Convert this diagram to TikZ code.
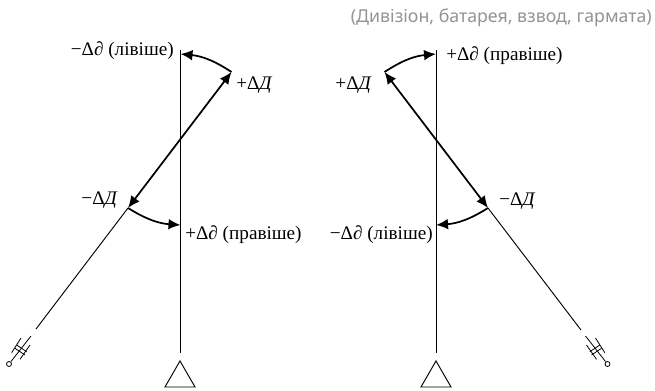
\documentclass[tikz,border=0pt]{standalone}
\usepackage{fontspec}
\usepackage{xcolor}
\setmainfont{Liberation Serif}
\setsansfont{Noto Sans}
\usetikzlibrary{arrows.meta,shapes.geometric}

\begin{document}
\begin{tikzpicture}[
  x=0.75pt, y=-0.75pt,
  lbl/.style={font=\fontsize{14.4}{16}\selectfont, inner sep=0pt},
  caption/.style={font=\sffamily\fontsize{13.3}{15}\selectfont, text=gray!85, inner sep=0pt},
  axisline/.style={line width=0.7pt},
  firstline/.style={line width=0.7pt},
  arr/.style={{Latex[length=9pt,width=8pt]}-{Latex[length=9pt,width=8pt]}, line width=1.3pt},
  turn/.style={-{Latex[length=9pt,width=8pt]}, line width=1.3pt},
  obspost/.style={draw, regular polygon, regular polygon sides=3, minimum size=26pt,
                  inner sep=0pt, line width=0.7pt},
  gunmark/.pic={
    \draw[line width=0.6pt] (2,-2.5) -- (22,-28);
    \draw[line width=0.6pt] (12,-26) -- (2.7,-11.3);
    \draw[line width=0.6pt] (21,-19) -- (11,-4.7);
    \draw[line width=0.6pt] (7.7,-19) -- (17.7,-12.3);
    \draw[line width=0.6pt] (6,-15.7) -- (16,-9);
    \draw[line width=0.6pt] (0,0) circle (2.5);
  }
]
  \useasboundingbox (0,0) rectangle (655,390);

  \node[caption, anchor=east] (title) at (652,18) {(Дивізіон, батарея, взвод, гармата)};

  % Left: fire to the left of the line
  \node[obspost] (postL) at (180,378.3) {};
  \coordinate (topL) at (180.5,50);
  \coordinate (botL) at (180.5,353);
  \coordinate (overL) at (231.5,72);
  \coordinate (shortL) at (128,208);
  \coordinate (gunendL) at (36,329);
  \coordinate (corrTopL) at (180.5,54);
  \coordinate (corrBotL) at (180.5,225);
  \pic at (9,364) {gunmark};

  \draw[axisline] (topL) -- (botL);
  \draw[firstline] (shortL) -- (gunendL);
  \draw[arr] (overL) -- (shortL);
  \draw[turn] (overL) to[bend right=14] (corrTopL);
  \draw[turn] (shortL) to[bend right=14] (corrBotL);

  \node[lbl, anchor=east] (minusdL) at (174,51) {−Δ\textit{∂} (лівіше)};
  \node[lbl, anchor=west] (plusDL) at (236,85.5) {+Δ\textit{Д}};
  \node[lbl, anchor=east] (minusDL) at (118,200) {−Δ\textit{Д}};
  \node[lbl, anchor=west] (plusdL) at (185,234.5) {+Δ\textit{∂} (правіше)};

  % Right: fire to the right of the line
  \node[obspost] (postR) at (436,378.3) {};
  \coordinate (topR) at (436,50);
  \coordinate (botR) at (436,353);
  \coordinate (overR) at (384.5,72);
  \coordinate (shortR) at (488,208);
  \coordinate (gunendR) at (581,330);
  \coordinate (corrTopR) at (436,54);
  \coordinate (corrBotR) at (436,225);
  \pic[xscale=-1] at (607.5,364) {gunmark};

  \draw[axisline] (topR) -- (botR);
  \draw[firstline] (shortR) -- (gunendR);
  \draw[arr] (overR) -- (shortR);
  \draw[turn] (overR) to[bend left=14] (corrTopR);
  \draw[turn] (shortR) to[bend left=14] (corrBotR);

  \node[lbl, anchor=west] (plusdR) at (446,55.5) {+Δ\textit{∂} (правіше)};
  \node[lbl, anchor=east] (plusDR) at (372,85.5) {+Δ\textit{Д}};
  \node[lbl, anchor=west] (minusDR) at (499,201) {−Δ\textit{Д}};
  \node[lbl, anchor=east] (minusdR) at (433,234.5) {−Δ\textit{∂} (лівіше)};
\end{tikzpicture}
\end{document}
